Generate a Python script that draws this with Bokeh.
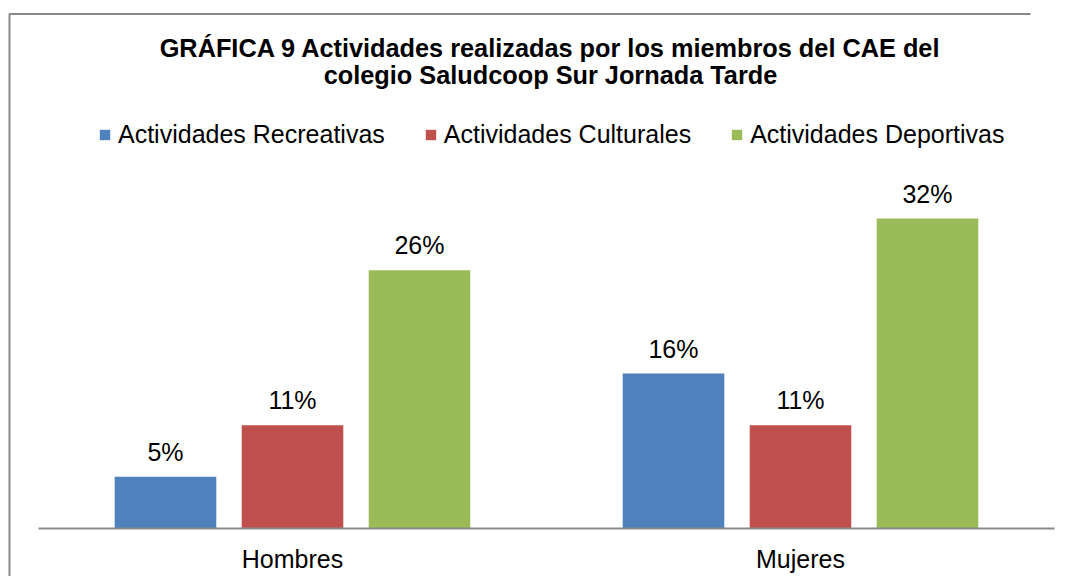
from bokeh.plotting import figure
from bokeh.models import ColumnDataSource, Range1d, LabelSet, Legend, LegendItem
from bokeh.core.properties import value
from bokeh.embed import file_html
from bokeh.resources import INLINE

categories = ["Hombres", "Mujeres"]
series_names = ["Actividades Recreativas", "Actividades Culturales", "Actividades Deportivas"]
# percentages (labels are shown rounded)
recreativas = [5.26, 15.79]
culturales = [10.53, 10.53]
deportivas = [26.32, 31.58]
colors = ["#4F81BD", "#C0504D", "#9BBB59"]
title_lines = ["GRÁFICA 9 Actividades realizadas por los miembros del CAE del",
               "colegio Saludcoop Sur Jornada Tarde"]

FONT = "Liberation Sans"
W, H = 1060, 576
# layout (canvas px)
PLOT_L, PLOT_R, BASE_Y = 38, 1054, 528
PX_PER_CAT = (PLOT_R - PLOT_L) / len(categories)
PX_PER_UNIT = 9.816

def dx(px):
    return (px - PLOT_L) / PX_PER_CAT

def dy(py):
    return (BASE_Y - py) / PX_PER_UNIT

p = figure(x_range=Range1d(dx(0), dx(W)), y_range=Range1d(dy(H), dy(0)),
           width=W, height=H, output_backend="svg", toolbar_location=None,
           x_axis_location=None, y_axis_location=None,
           min_border=0, min_border_left=0, min_border_right=0,
           min_border_top=0, min_border_bottom=0)
p.outline_line_color = None
p.xgrid.grid_line_color = None
p.ygrid.grid_line_color = None
p.background_fill_color = "white"
p.border_fill_color = "white"

# chart border (left and top edges visible in the crop)
p.line(x=[dx(9), dx(9), dx(W - 30)], y=[dy(H + 20), dy(13.5), dy(13.5)],
       line_color="#898989", line_width=2)

centers = [i + 0.5 for i in range(len(categories))]
src = ColumnDataSource(dict(cat=categories, xc=centers, zero=[0] * len(categories)))

items = []
for vals, off, col, name in [(recreativas, -0.25, colors[0], series_names[0]),
                             (culturales, 0.0, colors[1], series_names[1]),
                             (deportivas, 0.25, colors[2], series_names[2])]:
    s = ColumnDataSource(dict(x=[c + off for c in centers], top=vals,
                              lab=[f"{round(v)}%" for v in vals]))
    r = p.vbar(x="x", top="top", width=0.2, source=s, fill_color=col, line_color=None)
    items.append(LegendItem(label=name, renderers=[r]))
    p.add_layout(LabelSet(x="x", y="top", text="lab", source=s, text_align="center",
                          text_baseline="alphabetic", y_offset=16,
                          text_font=value(FONT), text_font_size="25px", text_color="black"))

# category axis line and labels
p.segment(x0=0, y0=0, x1=len(categories), y1=0, line_color="#898989", line_width=2)
p.add_layout(LabelSet(x="xc", y="zero", text="cat", source=src, text_align="center",
                      text_baseline="alphabetic", y_offset=-39,
                      text_font=value(FONT), text_font_size="25px", text_color="black"))

legend = Legend(items=items, orientation="horizontal", location=(98, H - 148.5),
                glyph_width=13, glyph_height=13, label_standoff=7, spacing=39,
                padding=0, margin=0, border_line_color=None, background_fill_alpha=0,
                label_text_font=FONT, label_text_font_size="25px", label_text_color="black")
p.add_layout(legend)

tsrc = ColumnDataSource(dict(x=[dx(550)] * 2, y=[dy(47.7), dy(74)], t=title_lines))
p.text(x="x", y="y", text="t", source=tsrc, text_align="center", text_baseline="alphabetic",
       text_font=value(FONT), text_font_size="25.3px", text_font_style="bold",
       text_color="black")

open("out.html", "w").write(file_html(p, INLINE))
